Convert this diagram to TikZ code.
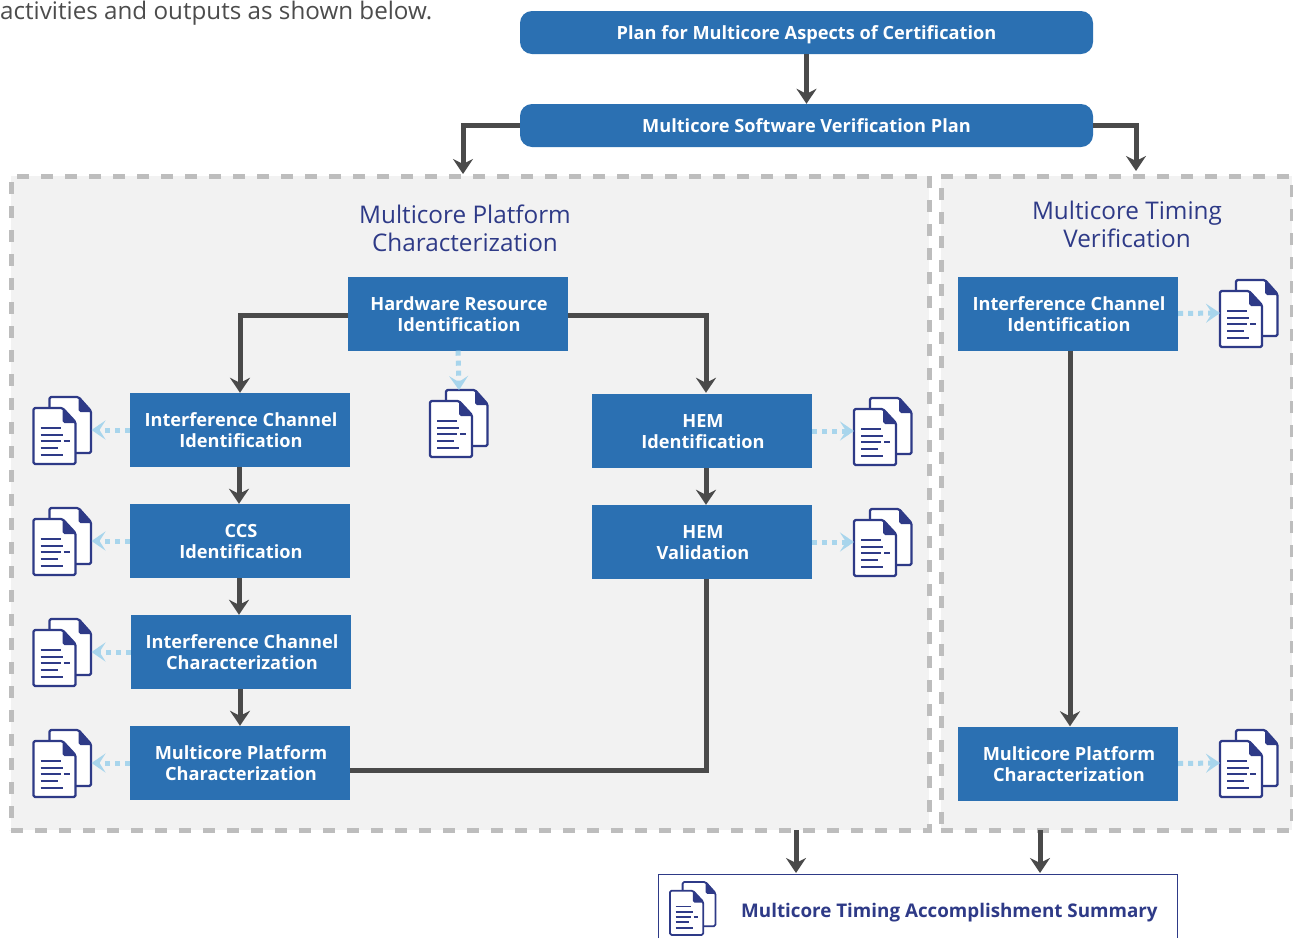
\documentclass[tikz,border=0pt]{standalone}
\usepackage{fontspec}
\setmainfont{Open Sans}
\usetikzlibrary{arrows.meta}
\definecolor{boxblue}{HTML}{2B70B2}
\definecolor{navy}{HTML}{2E3A87}
\definecolor{connc}{HTML}{4A4A4A}
\definecolor{dotc}{HTML}{A8D5EC}
\definecolor{panelc}{HTML}{F2F2F2}
\definecolor{dashc}{HTML}{BDBDBD}
\newcommand\twolines[2]{\rule{0pt}{14.7pt}\hspace*{2pt}#1\\\hspace*{2pt}#2}
\tikzset{
  x=1pt,y=-1pt,
  panel/.style={rectangle,fill=panelc,draw=dashc,line width=5pt,dash pattern=on 12pt off 12pt,inner sep=0pt},
  paneltitle/.style={text=navy,align=center,inner sep=0pt,font=\fontsize{24.3}{28}\selectfont},
  stage/.style={rectangle,fill=boxblue,text=white,align=center,inner sep=0pt,minimum width=220pt,minimum height=74pt,font=\fontsize{18.2}{21}\selectfont\bfseries},
  headbox/.style={rectangle,rounded corners=12pt,fill=boxblue,text=white,inner sep=0pt,text height=13.5pt,text depth=0pt,minimum width=573pt,minimum height=43pt,font=\fontsize{18.2}{21}\selectfont\bfseries},
  conn/.style={draw=connc,line width=5pt,-{Stealth[length=15pt,width=20pt,inset=5pt]}},
  connplain/.style={draw=connc,line width=5pt},
  dotconn/.style={draw=dotc,line width=5pt,dash pattern=on 5pt off 5pt,-{Stealth[length=14pt,width=19pt,inset=6pt]}},
  pics/docicon/.style={code={
    \begin{scope}[draw=navy,line width=#1,line join=round]
      \draw[fill=white,rounded corners=1.5pt] (16,0) -- (45,0) -- (57.5,14) -- (57.5,56) -- (16,56) -- cycle;
      \fill[navy] (45,0) -- (57.5,14) -- (57.5,15) -- (47,15) -- (45,13) -- cycle;
      \draw[fill=white,rounded corners=1.5pt] (0,11) -- (29,11) -- (42,25) -- (42,67) -- (0,67) -- cycle;
      \fill[navy] (29,11) -- (42,25) -- (42,26) -- (31,26) -- (29,24) -- cycle;
      \draw (7,31) -- (27,31) (7,38) -- (29,38) (7,44) -- (27,44) (30,44) -- (36,44) (7,51) -- (24,51) (7,58) -- (29,58);
    \end{scope}
    \coordinate (-w) at (0,33);
    \coordinate (-e) at (58,33);
    \coordinate (-n) at (29,0);
  }},
  pics/docicon/.default=2.2pt
}
\begin{document}
\begin{tikzpicture}
\useasboundingbox (0,0) rectangle (1293,938);

\node[panel,minimum width=918pt,minimum height=654pt] (pl) at (470,503) {};
\node[panel,minimum width=351pt,minimum height=654pt] (pr) at (1116.5,503) {};

\node[anchor=base west,inner sep=0pt,text=black!70,font=\fontsize{24.2}{28}\selectfont] (intro) at (0,19) {activities and outputs as shown below.};

\node[paneltitle] (tl) at (465,228) {Multicore Platform\\Characterization};
\node[paneltitle] (tr) at (1127,224) {Multicore Timing\\Verification};

\node[headbox] (plan) at (806.5,32.5) {Plan for Multicore Aspects of Certification};
\node[headbox] (verif) at (806.5,125.5) {Multicore Software Verification Plan};

\node[stage] (hri) at (458,313.5) {\twolines{Hardware Resource}{Identification}};
\node[stage] (ici) at (240,430) {\twolines{Interference Channel}{Identification}};
\node[stage] (ccs) at (240,541) {\twolines{CCS}{Identification}};
\node[stage] (icc) at (241,652) {\twolines{Interference Channel}{Characterization}};
\node[stage] (mpc) at (240,763) {\twolines{Multicore Platform}{Characterization}};
\node[stage] (hemi) at (702,431) {\twolines{HEM}{Identification}};
\node[stage] (hemv) at (702,542) {\twolines{HEM}{Validation}};
\node[stage] (rici) at (1068,313.5) {\twolines{Interference Channel}{Identification}};
\node[stage] (rmpc) at (1068,763.5) {\twolines{Multicore Platform}{Characterization}};

\pic (d1) at (33.5,397) {docicon};
\pic (d2) at (33.5,508) {docicon};
\pic (d3) at (33.5,619) {docicon};
\pic (d4) at (33.5,730) {docicon};
\pic (d5) at (430,390) {docicon};
\pic (d6) at (854,398) {docicon};
\pic (d7) at (854,509) {docicon};
\pic (d8) at (1220,280) {docicon};
\pic (d9) at (1220,730) {docicon};
\pic[scale=0.79] (d10) at (670,882) {docicon=1.8pt};

\draw[navy,line width=1pt] (658,938) -- (658,874) -- (1177,874) -- (1177,938);
\node[anchor=west,inner sep=0pt,text=navy,font=\fontsize{18.8}{21}\selectfont\bfseries] (sum) at (741,912.5) {Multicore Timing Accomplishment Summary};

\coordinate (inl) at (463,174);
\coordinate (inr) at (1136,171);
\coordinate (outa) at (796,830);
\coordinate (outat) at (796,873);
\coordinate (outb) at (1040,830);
\coordinate (outbt) at (1040,873);

\draw[conn] (plan.south) -- (verif.north);
\draw[conn] (verif.west) -| (inl);
\draw[conn] (verif.east) -| (inr);
\draw[conn] ([yshift=-1.5pt]hri.west) -| (ici.north);
\draw[conn] ([yshift=-1.5pt]hri.east) -| ([xshift=4pt,yshift=1pt]hemi.north);
\draw[conn] ([xshift=-1pt]ici.south) -- ([xshift=-1pt]ccs.north);
\draw[conn] ([xshift=-1pt]ccs.south) -- ([xshift=-2pt]icc.north);
\draw[conn] ([xshift=-1pt]icc.south) -- (mpc.north);
\draw[conn] ([xshift=4pt]hemi.south) -- ([xshift=4pt]hemv.north);
\draw[connplain] ([xshift=4pt]hemv.south) |- ([yshift=-7pt]mpc.east);
\draw[conn] ([xshift=2pt]rici.south) -- ([xshift=2pt]rmpc.north);
\draw[conn] (outa) -- (outat);
\draw[conn] (outb) -- (outbt);

\draw[dotconn] (ici.west) -- (d1-e);
\draw[dotconn] (ccs.west) -- (d2-e);
\draw[dotconn] (icc.west) -- (d3-e);
\draw[dotconn] (mpc.west) -- (d4-e);
\draw[dotconn] (hri.south) -- (d5-n);
\draw[dotconn] (hemi.east) -- (d6-w);
\draw[dotconn] (hemv.east) -- (d7-w);
\draw[dotconn] (rici.east) -- (d8-w);
\draw[dotconn] (rmpc.east) -- (d9-w);
\end{tikzpicture}
\end{document}
